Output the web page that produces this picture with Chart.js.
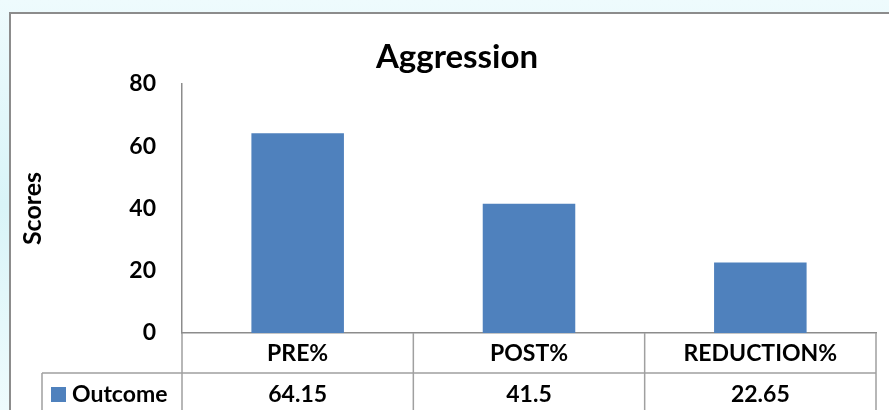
<!DOCTYPE html>
<html>
<head>
<meta charset="utf-8">
<script src="https://cdn.jsdelivr.net/npm/chart.js@4.4.0/dist/chart.umd.min.js"></script>
<style>
    html, body { margin: 0; padding: 0; }
    body {
        width: 889px; height: 410px; overflow: hidden;
        background: linear-gradient(180deg, #eefbfd 0%, #d9f4f8 50%, #eefbfd 100%);
    }
    canvas { display: block; }
</style>
</head>
<body>
<canvas id="grafico" width="889" height="410"></canvas>
<script>
// Dados do gráfico
const categorias = ['PRE%', 'POST%', 'REDUCTION%'];
const valores = [64.15, 41.5, 22.65];
const nomeSerie = 'Outcome';
const ticksY = [0, 20, 40, 60, 80];

const fonte = 'Lato';
const azul = '#4f81bd';
const cinza = '#8c8c8c';

// Moldura, título e tabela de dados abaixo do eixo
const tabelaPlugin = {
    id: 'tabela',
    beforeDraw(chart) {
        const ctx = chart.ctx;
        ctx.save();
        ctx.fillStyle = '#ffffff';
        ctx.fillRect(10, 13, chart.width - 10, chart.height - 13);
        ctx.strokeStyle = cinza;
        ctx.lineWidth = 2;
        ctx.beginPath();
        ctx.moveTo(10, chart.height + 5);
        ctx.lineTo(10, 13);
        ctx.lineTo(chart.width + 5, 13);
        ctx.stroke();
        ctx.restore();
    },
    afterDraw(chart) {
        const ctx = chart.ctx;
        const x = chart.scales.x;
        const area = chart.chartArea;
        const passo = x.getPixelForValue(1) - x.getPixelForValue(0);
        const dir = area.right;
        const topo = area.bottom;
        const linha1 = topo + 40;
        const linha2 = linha1 + 45;

        ctx.save();
        // título
        ctx.fillStyle = '#000';
        ctx.font = `bold 33px ${fonte}`;
        ctx.textAlign = 'center';
        ctx.textBaseline = 'alphabetic';
        ctx.fillText('Aggression', 457, 68);

        ctx.strokeStyle = '#a0a0a0';
        ctx.lineWidth = 1.5;
        ctx.beginPath();
        // horizontais
        ctx.moveTo(42, linha1); ctx.lineTo(dir, linha1);
        // verticais
        categorias.forEach((c, i) => {
            const xl = x.getPixelForValue(i) - passo / 2;
            ctx.moveTo(xl, topo); ctx.lineTo(xl, linha2);
        });
        ctx.moveTo(dir, topo); ctx.lineTo(dir, linha2);
        ctx.moveTo(42, linha1); ctx.lineTo(42, linha2);
        ctx.stroke();

        // linha de valores
        ctx.font = `bold 23px ${fonte}`;
        ctx.textBaseline = 'middle';
        ctx.fillStyle = '#000';
        valores.forEach((v, i) => {
            ctx.fillText(String(v), x.getPixelForValue(i), linha1 + 22);
        });
        // legenda
        ctx.fillStyle = azul;
        ctx.fillRect(51, linha1 + 14, 15, 15);
        ctx.fillStyle = '#000';
        ctx.textAlign = 'left';
        ctx.fillText(nomeSerie, 72, linha1 + 22);
        ctx.restore();
    }
};

new Chart(document.getElementById('grafico'), {
    type: 'bar',
    data: {
        labels: categorias,
        datasets: [
            {
                label: nomeSerie,
                data: valores,
                backgroundColor: azul,
                categoryPercentage: 0.4,
                barPercentage: 1
            }
        ]
    },
    options: {
        responsive: false,
        animation: false,
        layout: {
            padding: { left: 10, right: 13, top: 84, bottom: 0 }
        },
        plugins: {
            legend: { display: false },
            title: { display: false },
            tooltip: { enabled: false }
        },
        scales: {
            x: {
                offset: true,
                grid: { display: false, drawTicks: false },
                border: { display: true, color: cinza, width: 1.5 },
                ticks: {
                    padding: 7,
                    color: '#000',
                    font: { family: fonte, size: 23, weight: 'bold' }
                },
                afterFit(scale) { scale.height = 77; }
            },
            y: {
                min: 0,
                max: 80,
                afterBuildTicks(scale) {
                    scale.ticks = ticksY.map(v => ({ value: v }));
                },
                grid: { display: false, drawTicks: false },
                border: { display: true, color: cinza, width: 1.5 },
                ticks: {
                    padding: 26,
                    color: '#000',
                    font: { family: fonte, size: 23, weight: 'bold' }
                },
                title: {
                    display: true,
                    text: 'Scores',
                    color: '#000',
                    padding: { top: 8, bottom: 0 },
                    font: { family: fonte, size: 25, weight: 'bold' }
                },
                afterFit(scale) { scale.width = 172; }
            }
        }
    },
    plugins: [tabelaPlugin]
});
</script>
</body>
</html>
